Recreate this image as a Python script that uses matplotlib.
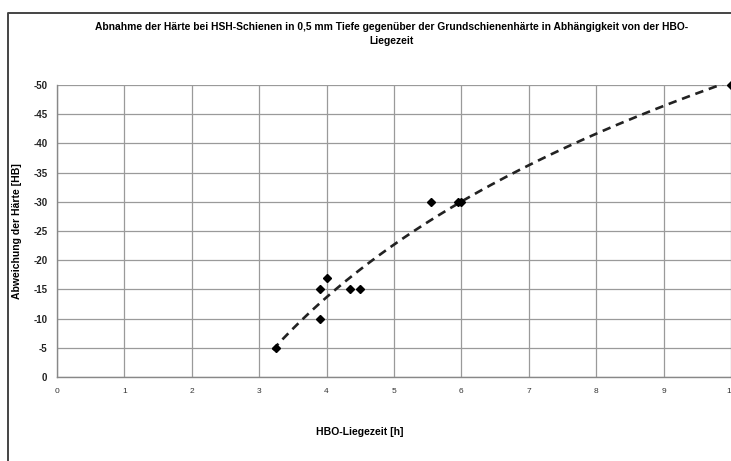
import matplotlib.pyplot as plt
from matplotlib.lines import Line2D
import numpy as np

plt.rcParams['font.family'] = ['Liberation Sans Narrow', 'Liberation Sans', 'DejaVu Sans']

# Messwerte: HBO-Liegezeit [h] und Abweichung der Haerte [HB]
liegezeit = [3.25, 3.9, 3.9, 4.0, 4.35, 4.5, 5.55, 5.95, 6.0, 10.0]
abweichung = [-5, -10, -15, -17, -15, -15, -30, -30, -30, -50]

x_ticks = list(range(0, 11))
y_ticks = list(range(0, -55, -5))

# logarithmische Trendlinie aus den Messwerten
k, d = np.polyfit(np.log(liegezeit), abweichung, 1)
xt = np.linspace(min(liegezeit) - 0.05, max(liegezeit), 200)
yt = k * np.log(xt) + d

fig = plt.figure(figsize=(7.31, 4.61), dpi=100)
ax = fig.add_axes([57 / 731, 1 - 377 / 461, 674 / 731, 292 / 461])

ax.plot(xt, yt, color='#222222', linestyle=(0, (3.2, 2.2)), linewidth=1.9, zorder=3)
ax.plot(liegezeit, abweichung, 'D', color='black', markersize=4.0, zorder=4, clip_on=False)

ax.set_xlim(0, 10)
ax.set_ylim(0, -50)
ax.set_xticks(x_ticks)
ax.set_yticks(y_ticks)
ax.set_xticklabels([str(v) for v in x_ticks], fontsize=6, color='#333333')
ax.set_yticklabels([str(v) for v in y_ticks], fontsize=7, fontweight='bold', color='#222222')
ax.tick_params(length=0, pad=7)
ax.tick_params(axis='x', pad=8)

ax.grid(True, color='#9a9a9a', linewidth=0.9)
for s in ['top', 'right']:
    ax.spines[s].set_visible(False)
for s in ['left', 'bottom']:
    ax.spines[s].set_color('#888888')
    ax.spines[s].set_linewidth(1.0)

ax.set_xlabel('HBO-Liegezeit [h]', fontsize=7.5, fontweight='bold')
ax.xaxis.set_label_coords((360 - 57) / 674, -50 / 292)
ax.set_ylabel('Abweichung der Härte [HB]', fontsize=7.5, fontweight='bold')
ax.yaxis.set_label_coords(-35 / 674, 0.5)

fig.text(392 / 731, 1 - 34 / 461,
         'Abnahme der Härte bei HSH-Schienen in 0,5 mm Tiefe gegenüber der Grundschienenhärte in Abhängigkeit von der HBO-\nLiegezeit',
         ha='center', va='center', fontsize=7.4, fontweight='bold', linespacing=1.45)

# Rahmen des Diagrammbereichs
fig.add_artist(Line2D([8 / 731, 8 / 731, 1.0], [0, 1 - 13 / 461, 1 - 13 / 461],
                      transform=fig.transFigure, color='#444444', linewidth=1.4))

fig.savefig('out.png', dpi=100)
